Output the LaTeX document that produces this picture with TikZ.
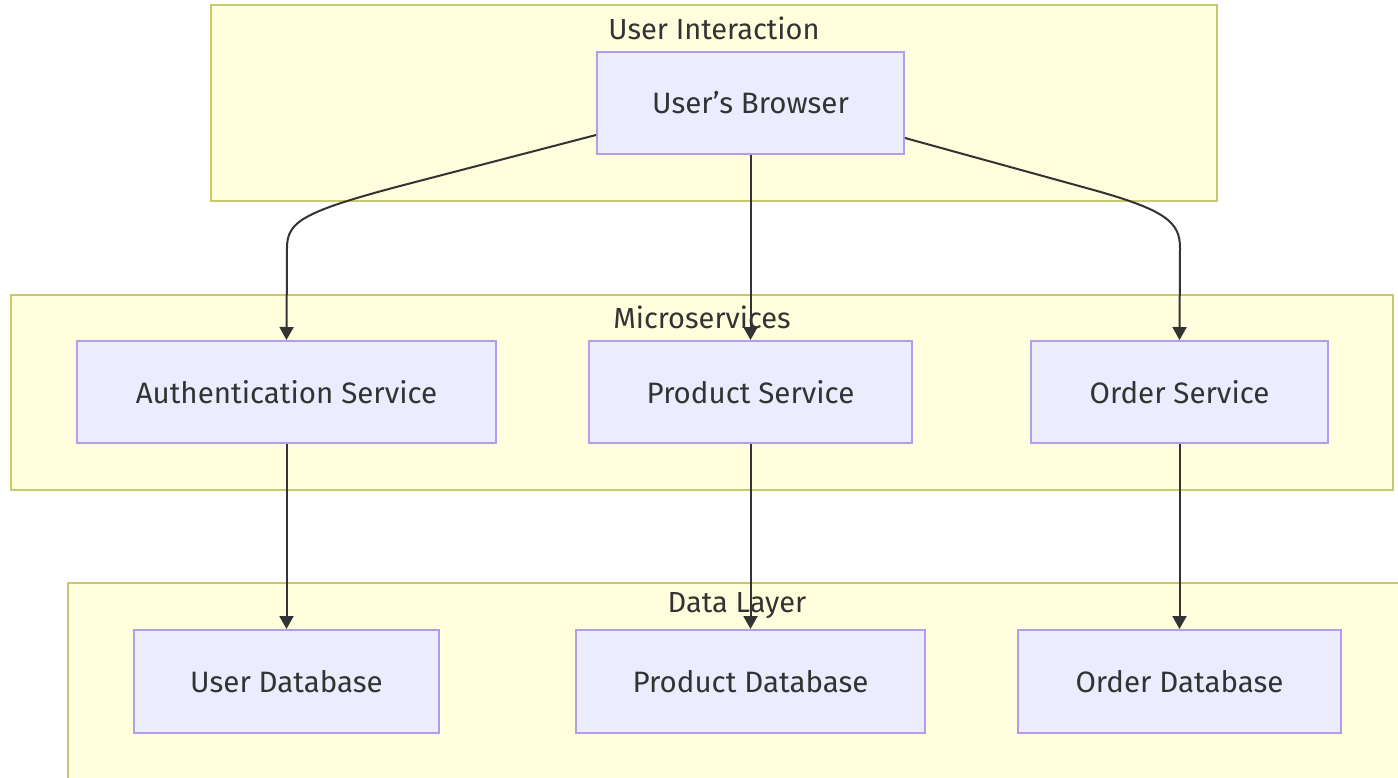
\documentclass[tikz,border=0pt]{standalone}
\usepackage{fontspec}
\setmainfont{Fira Sans}
\usetikzlibrary{arrows.meta}
\definecolor{clusterfill}{HTML}{FFFFDE}
\definecolor{clusterline}{HTML}{C8C86E}
\definecolor{nodefill}{HTML}{ECECFF}
\definecolor{nodeline}{HTML}{B39DE8}
\definecolor{ink}{HTML}{333333}
\tikzset{
  cluster/.style={fill=clusterfill, draw=clusterline, line width=2pt},
  clusterlabel/.style={text=ink, font=\fontsize{29}{34}\selectfont, inner sep=0pt},
  box/.style={rectangle, fill=nodefill, draw=nodeline, line width=2pt,
    minimum height=102pt, inner sep=0pt, text=ink,
    font=\fontsize{29.5}{34}\selectfont},
  link/.style={draw=ink, line width=2pt,
    -{Triangle[length=13pt,width=14pt]}},
}
\begin{document}
\begin{tikzpicture}[x=1pt,y=-1pt]
\clip (0,0) rectangle (1398,777);
\fill[white] (0,0) rectangle (1398,777);

% subgraph frames
\draw[cluster] (211,5) rectangle (1217,201);
\draw[cluster] (11,295) rectangle (1393,490);
\draw[cluster] (68,583) rectangle (1406,800);

\node[clusterlabel] (lblui) at (714,28) {User Interaction};
\node[clusterlabel] (lblms) at (702,317) {Microservices};
\node[clusterlabel] (lbldl) at (737,606) {Data Layer};

% components
\node[box, minimum width=307pt] (browser) at (750.5,103) {User's Browser};
\node[box, minimum width=419pt] (auth) at (286.5,392) {Authentication Service};
\node[box, minimum width=323pt] (prod) at (750.5,392) {Product Service};
\node[box, minimum width=297pt] (order) at (1179.5,392) {Order Service};
\node[box, minimum width=305pt, minimum height=103pt] (udb) at (286.5,681.5) {User Database};
\node[box, minimum width=349pt, minimum height=103pt] (pdb) at (750.5,681.5) {Product Database};
\node[box, minimum width=323pt, minimum height=103pt] (odb) at (1179.5,681.5) {Order Database};

% browser to services
\draw[link] ([yshift=-32pt]browser.west) -- (400,186)
  .. controls (302,212) and (287,222) .. (287,248) -- (auth.north);
\draw[link] (browser.south) -- (prod.north);
\draw[link] ([yshift=-35pt]browser.east) -- (1090,189)
  .. controls (1166,210) and (1180,222) .. (1180,248) -- (order.north);

% services to stores
\draw[link] (auth.south) -- (udb.north);
\draw[link] (prod.south) -- (pdb.north);
\draw[link] (order.south) -- (odb.north);
\end{tikzpicture}
\end{document}
